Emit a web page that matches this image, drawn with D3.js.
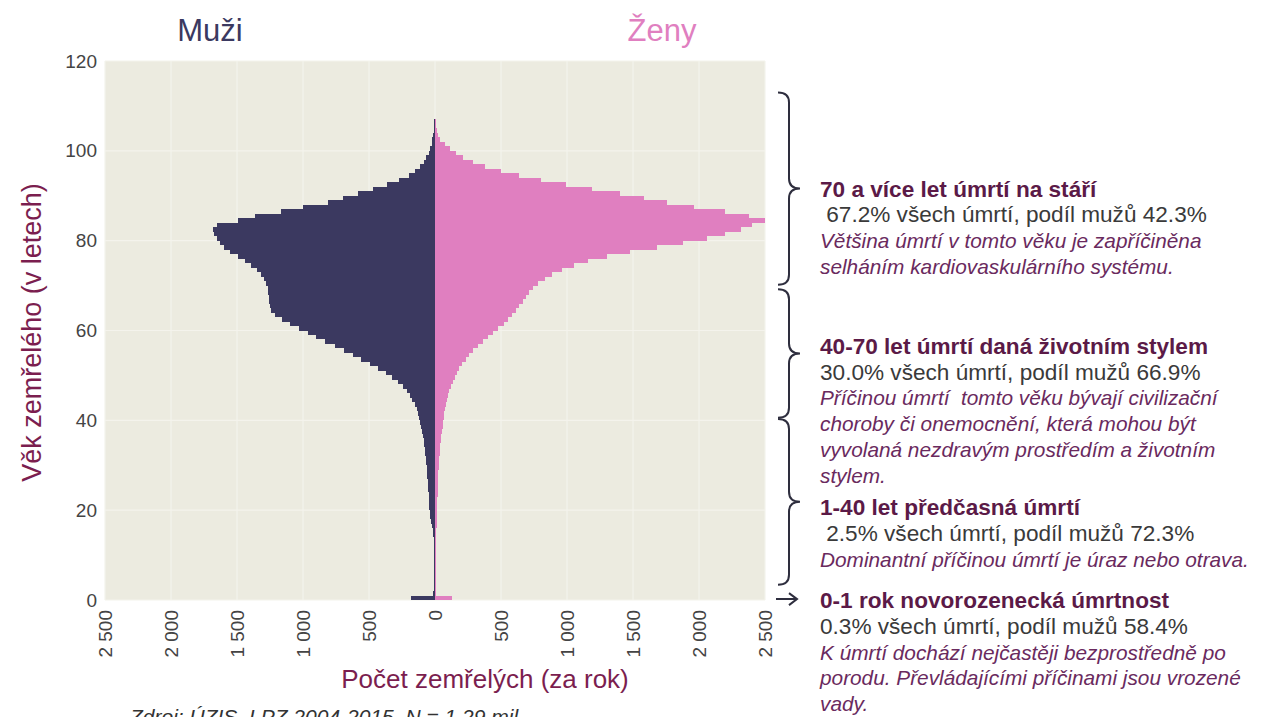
<!DOCTYPE html>
<meta charset="utf-8">
<style>
    body { margin: 0; background: #fff; }
    text { font-family: "Liberation Sans", Arial, sans-serif; }
    .tick-label { font-size: 19px; fill: #444; }
    .note-head { font-size: 22.6px; font-weight: bold; fill: #5b1a47; }
    .note-main { font-size: 22.6px; fill: #3a3a3a; }
    .note-ital { font-size: 20.8px; font-style: italic; fill: #6a2a5e; }
</style>
<body>
<script src="https://d3js.org/d3.v7.min.js"></script>
<script>

    // age in years, 0..110
    var ages = d3.range(0, 111);

    // deaths per year, men (drawn to the left)
    var men = [185, 14, 9, 7, 6, 6, 5, 5, 6, 6,
        7, 8, 9, 11, 14, 18, 24, 30, 36, 40,
        43, 45, 47, 49, 51, 53, 55, 58, 61, 64,
        67, 70, 74, 78, 82, 87, 92, 98, 104, 110,
        118, 128, 140, 155, 172, 192, 215, 245, 280, 325,
        375, 430, 495, 560, 625, 690, 760, 830, 900, 965,
        1030, 1095, 1160, 1210, 1240, 1250, 1255, 1258, 1262, 1268,
        1278, 1295, 1318, 1350, 1395, 1440, 1495, 1550, 1595, 1630,
        1655, 1672, 1680, 1650, 1490, 1360, 1170, 1000, 810, 700,
        585, 470, 360, 270, 200, 150, 115, 85, 65, 48,
        36, 26, 19, 13, 9, 6, 4, 3, 2, 1, 1];

    // deaths per year, women (drawn to the right)
    var women = [130, 10, 6, 5, 4, 4, 4, 4, 4, 4,
        5, 5, 6, 7, 8, 10, 12, 13, 14, 15,
        16, 17, 18, 19, 20, 21, 22, 24, 26, 28,
        30, 32, 35, 38, 41, 45, 49, 53, 57, 62,
        66, 71, 76, 83, 90, 99, 108, 120, 133, 148,
        165, 185, 207, 232, 260, 290, 325, 360, 400, 440,
        480, 520, 555, 585, 615, 640, 665, 690, 715, 745,
        780, 830, 890, 960, 1050, 1160, 1300, 1480, 1680, 1880,
        2060, 2200, 2320, 2400, 2500, 2380, 2200, 1960, 1760, 1580,
        1400, 1190, 990, 800, 640, 500, 380, 290, 215, 160,
        115, 75, 40, 20, 12, 8, 5, 3, 2, 1, 1];

    var xTicks = [-2500, -2000, -1500, -1000, -500, 0, 500, 1000, 1500, 2000, 2500];
    var yTicks = [0, 20, 40, 60, 80, 100, 120];

    // annotation groups: brace from age a0 to a1, text lines next to it
    var noteHeads = ["70 a více let úmrtí na stáří",
        "40-70 let úmrtí daná životním stylem",
        "1-40 let předčasná úmrtí",
        "0-1 rok novorozenecká úmrtnost"];
    var noteMain = [" 67.2% všech úmrtí, podíl mužů 42.3%",
        "30.0% všech úmrtí, podíl mužů 66.9%",
        " 2.5% všech úmrtí, podíl mužů 72.3%",
        "0.3% všech úmrtí, podíl mužů 58.4%"];
    var noteItal = [
        ["Většina úmrtí v tomto věku je zapříčiněna", "selháním kardiovaskulárního systému."],
        ["Příčinou úmrtí  tomto věku bývají civilizační", "choroby či onemocnění, která mohou být",
            "vyvolaná nezdravým prostředím a životním", "stylem."],
        ["Dominantní příčinou úmrtí je úraz nebo otrava."],
        ["K úmrtí dochází nejčastěji bezprostředně po", "porodu. Převládajícími příčinami jsou vrozené",
            "vady."]];
    var braceFrom = [113, 69.2, 40.3];
    var braceTo = [70.2, 40.6, 3.4];
    // age at which each note's first line sits
    var noteAge = [91.6, 56.6, 20.6, 0];

    var W = 1265, H = 717;
    var svg = d3.select("body").append("svg")
        .attr("width", W)
        .attr("height", H);

    // Set ranges
    var x = d3.scaleLinear().domain([-2500, 2500]).range([105, 765]);
    var y = d3.scaleLinear().domain([0, 120]).range([600, 61]);

    // plot background
    svg.append("rect")
        .attr("x", x(-2500)).attr("y", y(120))
        .attr("width", x(2500) - x(-2500))
        .attr("height", y(0) - y(120))
        .attr("fill", "#ecebe0");

    // grid
    svg.selectAll(".vgrid").data(xTicks).enter().append("line")
        .attr("x1", d => x(d)).attr("x2", d => x(d))
        .attr("y1", y(120)).attr("y2", y(0))
        .attr("stroke", "#f4f3ec").attr("stroke-width", 1.2);
    svg.selectAll(".hgrid").data(yTicks).enter().append("line")
        .attr("x1", x(-2500)).attr("x2", x(2500))
        .attr("y1", d => y(d)).attr("y2", d => y(d))
        .attr("stroke", "#f4f3ec").attr("stroke-width", 1.2);

    // bars
    svg.selectAll(".men").data(ages).enter().append("rect")
        .attr("x", d => x(-men[d]))
        .attr("y", d => y(d + 1))
        .attr("width", d => x(0) - x(-men[d]))
        .attr("height", d => y(d) - y(d + 1))
        .attr("fill", "#3b3960")
        .attr("shape-rendering", "crispEdges");
    svg.selectAll(".women").data(ages).enter().append("rect")
        .attr("x", x(0))
        .attr("y", d => y(d + 1))
        .attr("width", d => x(women[d]) - x(0))
        .attr("height", d => y(d) - y(d + 1))
        .attr("fill", "#e07fc0")
        .attr("shape-rendering", "crispEdges");

    // y axis
    var yAxis = svg.append("g")
        .attr("transform", "translate(" + x(-2500) + ",0)")
        .call(d3.axisLeft(y).tickValues(yTicks).tickSize(0).tickPadding(8));
    yAxis.select(".domain").remove();
    yAxis.selectAll("text").attr("class", "tick-label").attr("font-size", null).attr("fill", null);

    // x axis, rotated labels with space as thousands separator
    var fmt = d3.formatLocale({ thousands: " ", grouping: [3], decimal: ",", currency: ["", ""] }).format(",d");
    var xAxis = svg.append("g")
        .attr("transform", "translate(0," + y(0) + ")")
        .call(d3.axisBottom(x).tickValues(xTicks).tickSize(0).tickFormat(d => fmt(Math.abs(d))));
    xAxis.select(".domain").remove();
    xAxis.selectAll("text")
        .attr("class", "tick-label").attr("font-size", null).attr("fill", null)
        .attr("transform", "rotate(-90)")
        .attr("x", -10).attr("y", 0).attr("dy", "0.35em")
        .attr("text-anchor", "end");

    // titles
    svg.append("text").attr("x", 210).attr("y", 41).attr("text-anchor", "middle")
        .attr("font-size", 31).attr("fill", "#3b3960").text("Muži");
    svg.append("text").attr("x", 662).attr("y", 41).attr("text-anchor", "middle")
        .attr("font-size", 31).attr("fill", "#e07fc0").text("Ženy");
    svg.append("text")
        .attr("transform", "translate(41," + (y(60) + 2) + ") rotate(-90)")
        .attr("text-anchor", "middle").attr("font-size", 27).attr("fill", "#7b1e4f")
        .text("Věk zemřelého (v letech)");
    svg.append("text").attr("x", x(0) + 50).attr("y", 688).attr("text-anchor", "middle")
        .attr("font-size", 26).attr("fill", "#7b1e4f").text("Počet zemřelých (za rok)");

    // source, cut by the bottom edge as in the original
    svg.append("text").attr("x", 130).attr("y", 724)
        .attr("font-size", 21).attr("font-style", "italic").attr("fill", "#333")
        .text("Zdroj: ÚZIS, LPZ 2004-2015, N = 1,29 mil.");

    // braces
    var bx = 778, bw = 22;
    function bracePath(top, bot) {
        var mid = (top + bot) / 2, c = 10, m = bx + bw / 2;
        return "M" + bx + "," + top +
            " Q" + m + "," + top + " " + m + "," + (top + c) +
            " L" + m + "," + (mid - c) +
            " Q" + m + "," + mid + " " + (bx + bw) + "," + mid +
            " Q" + m + "," + mid + " " + m + "," + (mid + c) +
            " L" + m + "," + (bot - c) +
            " Q" + m + "," + bot + " " + bx + "," + bot;
    }
    braceFrom.forEach(function (a, i) {
        svg.append("path")
            .attr("d", bracePath(y(a), y(braceTo[i])))
            .attr("fill", "none").attr("stroke", "#2e2e3e").attr("stroke-width", 2);
    });
    // arrow for age 0
    var ay = y(0.2);
    svg.append("path")
        .attr("d", "M776," + ay + " L796," + ay + " M789," + (ay - 6) + " L797," + ay + " L789," + (ay + 6))
        .attr("fill", "none").attr("stroke", "#2e2e3e").attr("stroke-width", 2);

    // note texts
    var lh = 25.8;
    noteHeads.forEach(function (h, i) {
        var g = svg.append("g").attr("transform", "translate(820," + (y(noteAge[i]) + 8) + ")");
        g.append("text").attr("class", "note-head").attr("xml:space", "preserve").text(h);
        g.append("text").attr("class", "note-main").attr("xml:space", "preserve")
            .attr("y", lh).text(noteMain[i]);
        noteItal[i].forEach(function (t, j) {
            g.append("text").attr("class", "note-ital").attr("xml:space", "preserve")
                .attr("y", lh * (j + 2)).text(t);
        });
    });

</script>
</body>
